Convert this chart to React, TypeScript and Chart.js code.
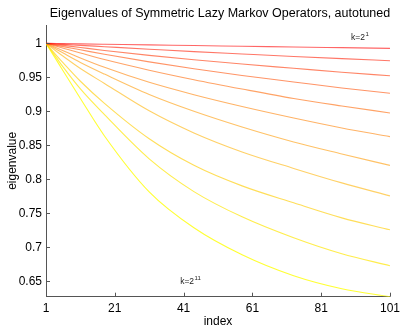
import React, { useEffect, useRef } from "react";
import { Chart, registerables } from "chart.js";

Chart.register(...registerables);

const titleText = "Eigenvalues of Symmetric Lazy Markov Operators, autotuned";
const xLabel = "index";
const yLabel = "eigenvalue";

const indices = [1, 4, 6, 11, 18, 31, 44, 58, 73, 87, 101];

const k1 = [1, 0.9998, 0.9996, 0.9992, 0.9987, 0.9978, 0.9968, 0.9958, 0.9947, 0.9937, 0.9927];
const k2 = [1, 0.9991, 0.9985, 0.9971, 0.9951, 0.9914, 0.9878, 0.9844, 0.9808, 0.9776, 0.9745];
const k3 = [1, 0.9982, 0.997, 0.9939, 0.9896, 0.9824, 0.9759, 0.9696, 0.9634, 0.9576, 0.9524];
const k4 = [1, 0.9971, 0.9952, 0.9905, 0.9839, 0.9728, 0.9627, 0.9527, 0.9433, 0.9345, 0.9266];
const k5 = [1, 0.9957, 0.9929, 0.9859, 0.9762, 0.9606, 0.9466, 0.9329, 0.919, 0.908, 0.8977];
const k6 = [1, 0.9935, 0.9892, 0.9786, 0.9648, 0.9427, 0.9245, 0.9072, 0.8903, 0.8757, 0.8629];
const k7 = [1, 0.9914, 0.9857, 0.9719, 0.9548, 0.9249, 0.9002, 0.8771, 0.8551, 0.8375, 0.8206];
const k8 = [1, 0.9885, 0.981, 0.963, 0.9411, 0.9008, 0.8683, 0.8404, 0.8162, 0.7949, 0.7758];
const k9 = [1, 0.9825, 0.9713, 0.9443, 0.9118, 0.8598, 0.8208, 0.7905, 0.7656, 0.7435, 0.7259];
const k10 = [1, 0.979, 0.965, 0.933, 0.8952, 0.8302, 0.7821, 0.745, 0.7142, 0.6907, 0.6731];
const k11 = [1, 0.9757, 0.9594, 0.919, 0.8639, 0.7817, 0.7289, 0.6892, 0.6584, 0.6393, 0.6276];

const seriesValues = [k1, k2, k3, k4, k5, k6, k7, k8, k9, k10, k11];
const seriesNames = ["k=2^1", "k=2^2", "k=2^3", "k=2^4", "k=2^5", "k=2^6", "k=2^7", "k=2^8", "k=2^9", "k=2^10", "k=2^11"];
const seriesColors = [
  "rgba(255,0,0,0.6)",
  "rgba(255,26,0,0.6)",
  "rgba(255,51,0,0.6)",
  "rgba(255,77,0,0.6)",
  "rgba(255,102,0,0.6)",
  "rgba(255,128,0,0.6)",
  "rgba(255,153,0,0.6)",
  "rgba(255,179,0,0.6)",
  "rgba(255,204,0,0.65)",
  "rgba(255,230,0,0.7)",
  "rgba(255,255,0,0.8)",
];

const xTicks = [1, 21, 41, 61, 81, 101];
const yTicks = [0.65, 0.7, 0.75, 0.8, 0.85, 0.9, 0.95, 1];

// annotation labels: [base, superscript, x index, y value]
const annotations: [string, string, number, number][] = [
  ["k=2", "1", 89.7, 1.0048],
  ["k=2", "11", 40.0, 0.6459],
];

const FONT = '"Liberation Sans", Arial, sans-serif';
const AXIS_COLOR = "#555";

const decorPlugin = {
  id: "decor",
  afterDraw(chart: any) {
    const { ctx, chartArea: a, scales } = chart;
    const x = scales.x;
    const y = scales.y;
    ctx.save();
    ctx.strokeStyle = AXIS_COLOR;
    ctx.lineWidth = 1;
    xTicks.forEach((v) => {
      const px = Math.round(x.getPixelForValue(v)) + 0.5;
      ctx.beginPath();
      ctx.moveTo(px, a.bottom);
      ctx.lineTo(px, a.bottom - 4);
      ctx.stroke();
    });
    yTicks.forEach((v) => {
      const py = Math.round(y.getPixelForValue(v)) + 0.5;
      ctx.beginPath();
      ctx.moveTo(a.left, py);
      ctx.lineTo(a.left + 4, py);
      ctx.stroke();
    });

    ctx.fillStyle = "#000";
    ctx.font = `12.5px ${FONT}`;
    ctx.textAlign = "center";
    ctx.textBaseline = "alphabetic";
    ctx.fillText(titleText, 220, 17);

    ctx.font = `12px ${FONT}`;
    ctx.fillText(xLabel, (a.left + a.right) / 2, 325);

    ctx.save();
    ctx.translate(15.5, (a.top + a.bottom) / 2);
    ctx.rotate(-Math.PI / 2);
    ctx.textBaseline = "alphabetic";
    ctx.fillText(yLabel, 0, 0);
    ctx.restore();

    ctx.fillStyle = "#222";
    ctx.textAlign = "left";
    annotations.forEach(([base, sup, ix, iv]) => {
      const px = x.getPixelForValue(ix);
      const py = y.getPixelForValue(iv);
      ctx.font = `8.5px ${FONT}`;
      ctx.fillText(base, px, py);
      const w = ctx.measureText(base).width;
      ctx.font = `6px ${FONT}`;
      ctx.fillText(sup, px + w + 0.5, py - 4);
    });
    ctx.restore();
  },
};

export default function App() {
  const canvasRef = useRef<HTMLCanvasElement | null>(null);

  useEffect(() => {
    document.body.style.margin = "0";
    const canvas = canvasRef.current;
    if (!canvas) return;
    const datasets = seriesValues.map((vals, i) => ({
      label: seriesNames[i],
      data: vals.map((v, j) => ({ x: indices[j], y: v })),
      borderColor: seriesColors[i],
      borderWidth: 1.1,
      pointRadius: 0,
      cubicInterpolationMode: "monotone" as const,
      fill: false,
    }));
    const chart = new Chart(canvas, {
      type: "line",
      data: { datasets },
      options: {
        responsive: false,
        animation: false,
        devicePixelRatio: 1,
        layout: { padding: { top: 25, right: 13, left: 0, bottom: 0 } },
        plugins: { legend: { display: false }, title: { display: false }, tooltip: { enabled: false } },
        scales: {
          x: {
            type: "linear",
            min: 1,
            max: 101,
            afterBuildTicks: (s: any) => {
              s.ticks = xTicks.map((v) => ({ value: v }));
            },
            afterFit: (s: any) => {
              s.height = 33.3;
            },
            grid: { display: false, drawTicks: false },
            border: { display: true, color: AXIS_COLOR, width: 1 },
            ticks: {
              padding: 5,
              color: "#000",
              font: { family: FONT, size: 12 },
              maxRotation: 0,
              autoSkip: false,
              callback: (v: any) => String(v),
            },
          },
          y: {
            type: "linear",
            min: 0.6276,
            max: 1.027,
            afterBuildTicks: (s: any) => {
              s.ticks = yTicks.map((v) => ({ value: v }));
            },
            afterFit: (s: any) => {
              s.width = 46;
            },
            grid: { display: false, drawTicks: false },
            border: { display: true, color: AXIS_COLOR, width: 1 },
            ticks: {
              padding: 4,
              color: "#000",
              font: { family: FONT, size: 12 },
              autoSkip: false,
              callback: (v: any) => String(v),
            },
          },
        },
      },
      plugins: [decorPlugin],
    });
    return () => chart.destroy();
  }, []);

  return <canvas ref={canvasRef} width={405} height={330} style={{ display: "block", width: 405, height: 330 }} />;
}
